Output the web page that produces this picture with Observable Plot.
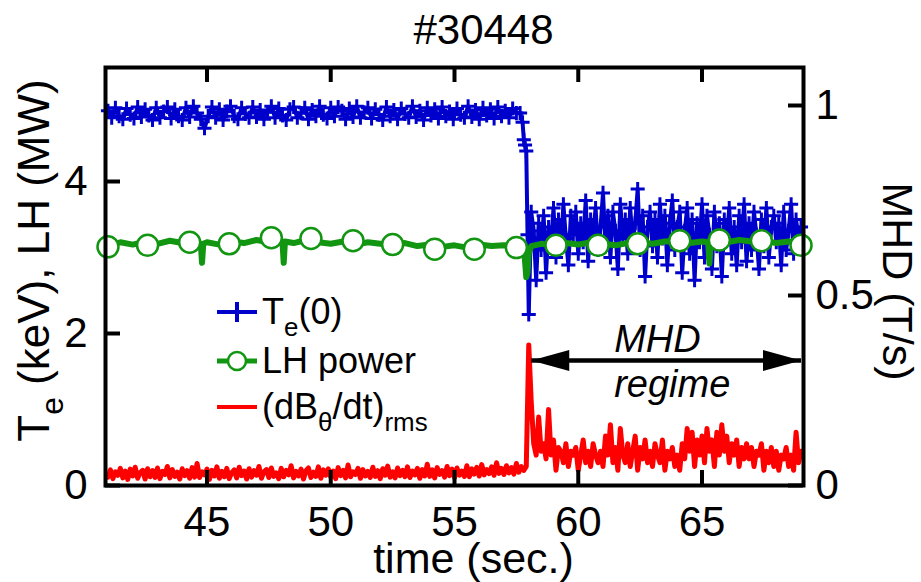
<!DOCTYPE html>
<html><head><meta charset="utf-8">
<script src="https://cdn.jsdelivr.net/npm/d3@7"></script>
<script src="https://cdn.jsdelivr.net/npm/@observablehq/plot@0.6"></script>
<style>
html,body{margin:0;padding:0;background:#fff;}
#chart{width:921px;height:582px;}
</style></head><body><div id="chart"></div>
<script>
// ---------------- data ----------------
const titleText = "#30448";
const xLabel = "time (sec.)";
const yLeftLabel = "T_{e} (keV), LH (MW)";
const yRightLabel = "MHD (T/s)";
const xTicks = [45, 50, 55, 60, 65];
const leftTicks = [0, 2, 4];
const rightTicks = [0, 0.5, 1];
const mhdToLeft = 5;               // 1 T/s on the right axis = 5 units on the left axis
const legendLabels = ["T_{e}(0)", "LH power", "(dB_{θ}/dt)_{rms}"];
const regimeLabels = ["MHD", "regime"];
const regimeStart = 58.1, regimeEnd = 69.0, regimeLevel = 1.645, regimeTextTime = 61.45;

// Te(0) before the crash: sampled every 0.15 s from 41.0 s
const teBeforeStart = 41.0, teBeforeStep = 0.15;
const teBefore = [
  4.93,4.84,4.97,4.86,4.82,4.96,4.88,4.83,4.98,4.85,
  4.95,4.87,4.81,4.97,4.84,4.92,4.98,4.83,4.95,4.86,
  4.81,4.97,4.85,4.99,4.90,4.82,4.70,4.86,4.98,4.84,
  4.95,4.81,4.92,4.99,4.86,4.82,4.97,4.89,4.84,4.98,
  4.85,4.94,4.82,4.91,4.99,4.84,4.96,4.87,4.81,4.95,
  4.98,4.84,4.90,4.97,4.82,4.94,4.86,4.99,4.88,4.83,
  4.97,4.86,4.98,4.93,4.82,4.96,4.85,4.99,4.84,4.91,
  4.97,4.83,4.95,4.88,4.81,4.98,4.86,4.94,4.82,4.96,
  4.89,4.84,4.99,4.85,4.93,4.81,4.97,4.87,4.95,4.83,
  4.98,4.86,4.92,4.82,4.96,4.88,4.84,4.99,4.85,4.94,
  4.82,4.97,4.87,4.95,4.83,4.98,4.86,4.93,4.84,4.96,
  4.90
];
// Te(0) during the crash
const teDropTime  = [57.65, 57.75, 57.80, 57.85, 57.90, 57.95, 58.00];
const teDropValue = [4.90, 4.78, 4.55, 4.48, 4.40, 3.30, 2.25];
// Te(0) after the crash: sampled every 0.1 s from 58.1 s
const teAfterStart = 58.1, teAfterStep = 0.1;
const teAfter = [
  3.60,3.35,2.70,3.45,3.10,3.55,2.80,3.40,3.20,3.65,
  3.00,3.50,3.15,3.70,3.25,2.90,3.55,3.30,3.60,3.05,
  3.45,3.20,3.75,2.95,3.50,3.30,3.65,3.10,3.40,3.85,
  3.15,3.55,3.00,3.60,3.35,2.85,3.70,3.25,3.50,3.05,
  3.65,3.20,3.45,3.90,3.10,3.55,2.75,3.40,3.60,3.15,
  3.50,3.00,3.70,3.25,3.55,2.90,3.45,3.75,3.10,3.40,
  3.60,2.80,3.35,3.65,3.05,3.50,2.70,3.45,3.20,3.70,
  3.00,3.55,3.30,2.85,3.60,3.15,3.45,2.75,3.50,3.25,
  3.65,3.05,3.40,2.90,3.55,3.20,3.70,2.95,3.45,3.10,
  3.60,3.30,2.85,3.50,3.15,3.65,3.00,3.40,3.55,3.20,
  3.45,2.90,3.60,3.10,3.35,3.70,3.05,3.50,3.25,3.40
];

// LH power (MW)
const lhTime = [41.0,41.5,42.0,42.5,43.0,43.5,44.0,44.5,44.75,44.8,44.85,
  45.0,45.5,46.0,46.5,47.0,47.5,48.0,48.05,48.1,48.15,
  48.5,49.0,49.5,50.0,50.5,51.0,51.5,52.0,52.5,53.0,53.5,54.0,54.5,55.0,55.5,56.0,56.5,57.0,57.5,
  57.8,57.85,57.9,57.95,58.0,58.1,
  58.5,59.0,59.5,60.0,60.5,61.0,61.5,62.0,62.5,63.0,63.5,64.0,64.5,65.0,
  65.25,65.3,65.35,
  65.5,66.0,66.5,67.0,67.5,68.0,68.5,69.0];
const lhValue = [3.16,3.20,3.17,3.21,3.18,3.22,3.19,3.21,3.18,2.93,3.18,
  3.20,3.17,3.21,3.19,3.23,3.20,3.22,3.20,2.93,3.21,
  3.19,3.23,3.20,3.18,3.21,3.17,3.20,3.18,3.16,3.19,3.15,3.17,3.14,3.16,3.13,3.17,3.15,3.16,3.14,
  3.17,2.95,2.74,2.80,3.05,3.15,
  3.18,3.16,3.19,3.17,3.20,3.18,3.16,3.19,3.20,3.18,3.21,3.22,3.19,3.21,
  3.20,2.92,3.19,
  3.22,3.20,3.23,3.21,3.22,3.19,3.21,3.18];
// LH power marker points
const lhMarkTime  = [41.0,42.6,44.3,45.9,47.6,49.2,50.9,52.5,54.2,55.8,57.5,59.1,60.8,62.4,64.1,65.7,67.4,69.0];
const lhMarkValue = [3.14,3.16,3.20,3.18,3.26,3.25,3.22,3.17,3.11,3.11,3.13,3.16,3.16,3.18,3.22,3.23,3.22,3.16];

// (dB/dt)rms in T/s, before the crash: every 0.1 s from 41.0 s
const mhdBeforeStart = 41.0, mhdBeforeStep = 0.1;
const mhdBefore = [
  0.022,0.041,0.018,0.036,0.027,0.045,0.020,0.038,0.016,0.043,
  0.025,0.048,0.019,0.034,0.040,0.017,0.044,0.023,0.039,0.021,
  0.046,0.018,0.037,0.029,0.050,0.020,0.042,0.024,0.035,0.017,
  0.044,0.026,0.039,0.019,0.047,0.022,0.058,0.021,0.036,0.028,
  0.043,0.016,0.040,0.025,0.049,0.019,0.037,0.023,0.045,0.018,
  0.034,0.041,0.020,0.048,0.026,0.038,0.017,0.044,0.022,0.039,
  0.027,0.050,0.019,0.036,0.042,0.021,0.046,0.024,0.033,0.018,
  0.045,0.023,0.040,0.028,0.052,0.020,0.037,0.025,0.043,0.017,
  0.039,0.046,0.021,0.035,0.024,0.049,0.019,0.041,0.027,0.044,
  0.022,0.038,0.018,0.047,0.026,0.040,0.020,0.054,0.023,0.036,
  0.029,0.045,0.019,0.042,0.025,0.037,0.021,0.048,0.024,0.039,
  0.018,0.044,0.027,0.051,0.022,0.036,0.020,0.046,0.026,0.040,
  0.023,0.049,0.021,0.038,0.028,0.045,0.019,0.042,0.025,0.056,
  0.024,0.041,0.020,0.047,0.029,0.039,0.022,0.050,0.026,0.043,
  0.021,0.046,0.027,0.038,0.024,0.052,0.023,0.044,0.030,0.048,
  0.025,0.055,0.028,0.042,0.031,0.049,0.027,0.060,0.032,0.045,
  0.029,0.052,0.033,0.047,0.030,0.058,0.035,0.050,0.040
];
// after the crash: every 0.1 s from 57.9 s
const mhdAfterStart = 57.9, mhdAfterStep = 0.1;
const mhdAfter = [
  0.05,0.37,0.22,0.11,0.08,0.18,0.09,0.11,0.07,0.20,
  0.08,0.12,0.04,0.10,0.09,0.06,0.11,0.05,0.09,0.08,
  0.10,0.04,0.08,0.12,0.06,0.09,0.05,0.11,0.08,0.06,
  0.09,0.05,0.13,0.08,0.16,0.06,0.10,0.04,0.15,0.08,
  0.06,0.11,0.05,0.09,0.13,0.04,0.10,0.07,0.12,0.06,
  0.09,0.05,0.11,0.08,0.06,0.12,0.04,0.09,0.07,0.10,
  0.05,0.08,0.04,0.11,0.07,0.15,0.09,0.14,0.05,0.12,
  0.08,0.13,0.06,0.15,0.09,0.12,0.05,0.14,0.08,0.16,
  0.09,0.13,0.06,0.11,0.08,0.12,0.05,0.10,0.07,0.11,
  0.07,0.10,0.05,0.09,0.08,0.11,0.04,0.09,0.06,0.10,
  0.05,0.09,0.04,0.08,0.07,0.10,0.05,0.08,0.04,0.14,
  0.06,0.09
];

// ---------------- build tables ----------------
const r2 = v => Math.round(v * 100) / 100;
const te = [
  ...teBefore.map((v, i) => ({t: r2(teBeforeStart + i * teBeforeStep), v})),
  ...teDropTime.map((t, i) => ({t, v: teDropValue[i]})),
  ...teAfter.map((v, i) => ({t: r2(teAfterStart + i * teAfterStep), v}))
];
const lh = lhTime.map((t, i) => ({t, v: lhValue[i]}));
const lhMarks = lhMarkTime.map((t, i) => ({t, v: lhMarkValue[i]}));
const mhd = [
  ...mhdBefore.map((v, i) => ({t: r2(mhdBeforeStart + i * mhdBeforeStep), v})),
  ...mhdAfter.map((v, i) => ({t: r2(mhdAfterStart + i * mhdAfterStep), v}))
];
const regime = [{start: regimeStart, end: regimeEnd, level: regimeLevel}];

// ---------------- styling ----------------
const FONT = '"Liberation Sans", Arial, Helvetica, sans-serif';
const BLUE = "#0000cc", GREEN = "#129612", RED = "#ff0000";
const W = 921, H = 582, mT = 67, mB = 97, mL = 105, mR = 118;
const frameW = W - mL - mR, frameH = H - mT - mB, TICK = 15;

const headRight = {draw(ctx, size) { const r = Math.sqrt(size / Math.PI);
  ctx.moveTo(0, 0); ctx.lineTo(-2 * r, -0.55 * r); ctx.lineTo(-2 * r, 0.55 * r); ctx.closePath(); }};
const headLeft = {draw(ctx, size) { const r = Math.sqrt(size / Math.PI);
  ctx.moveTo(0, 0); ctx.lineTo(2 * r, -0.55 * r); ctx.lineTo(2 * r, 0.55 * r); ctx.closePath(); }};

const svg = Plot.plot({
  width: W, height: H,
  marginTop: mT, marginBottom: mB, marginLeft: mL, marginRight: mR,
  x: {domain: [40.9, 69.1]},
  y: {domain: [0, 5.5]},
  style: {fontFamily: FONT, background: "white", color: "black", overflow: "visible"},
  marks: [
    Plot.lineY(mhd, {x: "t", y: d => d.v * mhdToLeft, stroke: RED, strokeWidth: 5}),
    Plot.lineY(te, {x: "t", y: "v", stroke: BLUE, strokeWidth: 4}),
    Plot.dot(te, {x: "t", y: "v", symbol: "plus", r: 4.6, stroke: BLUE, strokeWidth: 3}),
    Plot.lineY(lh, {x: "t", y: "v", stroke: GREEN, strokeWidth: 6}),
    Plot.dot(lhMarks, {x: "t", y: "v", r: 10.5, fill: "white", stroke: GREEN, strokeWidth: 2.5}),
    Plot.link(regime, {x1: "start", x2: "end", y1: "level", y2: "level", stroke: "black", strokeWidth: 4.5}),
    Plot.dot(regime, {x: "start", y: "level", symbol: headLeft, r: 19, fill: "black", stroke: "none"}),
    Plot.dot(regime, {x: "end", y: "level", symbol: headRight, r: 19, fill: "black", stroke: "none"}),
    Plot.text(regimeLabels.map((s, i) => ({s, i})), {x: () => regimeTextTime, y: () => regimeLevel, text: "s",
      textAnchor: "start", lineAnchor: "bottom", fontSize: 38, fontStyle: "italic"}),
    Plot.frame({stroke: "black", strokeWidth: 4}),
    Plot.tickX(xTicks, {x: d => d, stroke: "black", strokeWidth: 4, insetTop: frameH - TICK}),
    Plot.tickX(xTicks, {x: d => d, stroke: "black", strokeWidth: 4, insetBottom: frameH - TICK}),
    Plot.tickY(leftTicks, {y: d => d, stroke: "black", strokeWidth: 4, insetRight: frameW - TICK}),
    Plot.tickY(rightTicks.map(v => v * mhdToLeft), {y: d => d, stroke: "black", strokeWidth: 4, insetLeft: frameW - TICK}),
    Plot.axisX(xTicks, {anchor: "bottom", tickSize: 0, tickPadding: 21, fontSize: 42, label: null, tickFormat: d => String(d)}),
    Plot.axisY(leftTicks, {anchor: "left", tickSize: 0, tickPadding: 18, fontSize: 42, label: null, tickFormat: d => String(d)}),
    Plot.axisY(rightTicks.map(v => v * mhdToLeft), {anchor: "right", tickSize: 0, tickPadding: 12, fontSize: 42, label: null,
      tickFormat: d => String(+(d / mhdToLeft).toFixed(2))}),
    Plot.text([titleText], {frameAnchor: "top", dx: 29, dy: -24, lineAnchor: "bottom", textAnchor: "middle", fontSize: 42}),
    Plot.text([xLabel], {frameAnchor: "bottom", dx: 19, dy: 87, lineAnchor: "bottom", textAnchor: "middle", fontSize: 43}),
    Plot.text([yLeftLabel], {frameAnchor: "left", dx: -57, dy: -16, rotate: -90, lineAnchor: "bottom", textAnchor: "middle", fontSize: 44}),
    Plot.text([yRightLabel], {frameAnchor: "right", dx: 79, dy: 5, rotate: 90, lineAnchor: "bottom", textAnchor: "middle", fontSize: 43})
  ]
});
document.getElementById("chart").appendChild(svg);

// regime labels: MHD above the arrow, regime below it
d3.select(svg).selectAll("text").each(function () {
  if (this.textContent === regimeLabels[0]) this.setAttribute("dy", "-8");
  if (this.textContent === regimeLabels[1]) this.setAttribute("dy", "37");
});

// rich text helper: "_{...}" -> subscript tspans
function rich(el, str, size) {
  el.textContent = "";
  const parts = [];
  const re = /_\{([^}]*)\}/g; let last = 0, m;
  while ((m = re.exec(str))) {
    if (m.index > last) parts.push({s: str.slice(last, m.index), sub: false});
    parts.push({s: m[1], sub: true}); last = re.lastIndex;
  }
  if (last < str.length) parts.push({s: str.slice(last), sub: false});
  const shift = size * 0.33; let down = false;
  for (const p of parts) {
    const ts = document.createElementNS("http://www.w3.org/2000/svg", "tspan");
    ts.textContent = p.s;
    if (p.sub) { ts.setAttribute("font-size", size * 0.72); if (!down) { ts.setAttribute("dy", shift); down = true; } }
    else if (down) { ts.setAttribute("dy", -shift); down = false; }
    el.appendChild(ts);
  }
}
d3.select(svg).selectAll("text").each(function () {
  const s = this.textContent;
  if (s.includes("_{")) rich(this, s, parseFloat(getComputedStyle(this).fontSize));
});

// legend
const lg = d3.select(svg).append("g").attr("font-family", FONT).attr("font-size", 36).attr("text-anchor", "start");
const rowY = [312, 361, 407], x0 = 217, x1 = 257, tx = 262;
lg.append("line").attr("x1", x0).attr("x2", x1).attr("y1", rowY[0]).attr("y2", rowY[0]).attr("stroke", BLUE).attr("stroke-width", 4);
lg.append("line").attr("x1", (x0 + x1) / 2).attr("x2", (x0 + x1) / 2).attr("y1", rowY[0] - 10).attr("y2", rowY[0] + 10).attr("stroke", BLUE).attr("stroke-width", 4);
lg.append("line").attr("x1", x0).attr("x2", x1).attr("y1", rowY[1]).attr("y2", rowY[1]).attr("stroke", GREEN).attr("stroke-width", 5);
lg.append("circle").attr("cx", (x0 + x1) / 2).attr("cy", rowY[1]).attr("r", 9).attr("fill", "white").attr("stroke", GREEN).attr("stroke-width", 2.5);
lg.append("line").attr("x1", x0).attr("x2", x1).attr("y1", rowY[2]).attr("y2", rowY[2]).attr("stroke", RED).attr("stroke-width", 4);
legendLabels.forEach((s, i) => {
  const t = lg.append("text").attr("x", tx).attr("y", rowY[i] + 12).attr("fill", "black");
  rich(t.node(), s, 36);
});
</script>
</body></html>
